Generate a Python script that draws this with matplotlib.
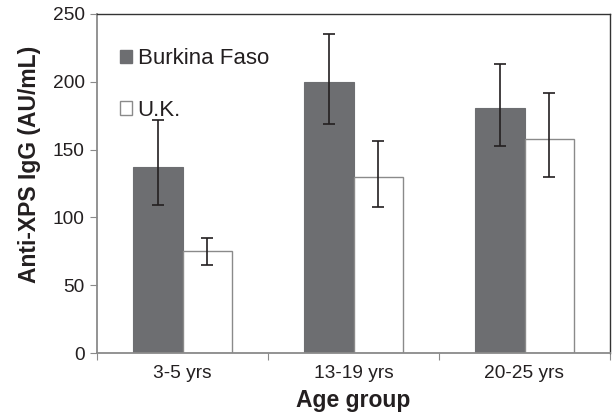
import matplotlib
matplotlib.use("Agg")
import matplotlib.pyplot as plt
from matplotlib.patches import Patch
import numpy as np

plt.rcParams['font.family'] = ['Liberation Sans', 'DejaVu Sans']

categories = ["3-5 yrs", "13-19 yrs", "20-25 yrs"]
burkina = [137, 200, 181]
burkina_lo = [109, 169, 153]
burkina_hi = [172, 235, 213]
uk = [75, 130, 158]
uk_lo = [65, 108, 130]
uk_hi = [85, 156, 192]

fig = plt.figure(figsize=(6.12, 4.17), dpi=100)
ax = fig.add_axes([97/612, 64/417, 513/612, 339/417])

x = np.arange(len(categories))
w = 0.29
dark = "#6d6e71"
errc = "#231f20"

bf_err = [np.array(burkina) - np.array(burkina_lo), np.array(burkina_hi) - np.array(burkina)]
uk_err = [np.array(uk) - np.array(uk_lo), np.array(uk_hi) - np.array(uk)]

ax.bar(x - w/2, burkina, w, color=dark, edgecolor=dark, linewidth=0.8, zorder=2)
ax.bar(x + w/2, uk, w, color="white", edgecolor="#8a8a8a", linewidth=1.0, zorder=2)
ax.errorbar(x - w/2, burkina, yerr=bf_err, fmt="none", ecolor=errc, elinewidth=1.2, capsize=4, capthick=1.2, zorder=3)
ax.errorbar(x + w/2, uk, yerr=uk_err, fmt="none", ecolor=errc, elinewidth=1.2, capsize=4, capthick=1.2, zorder=3)

ax.set_xlim(-0.5, 2.5)
ax.set_ylim(0, 250)
ax.set_yticks([0, 50, 100, 150, 200, 250])
ax.tick_params(axis="y", direction="out", length=5, color="#8a8a8a", labelsize=13.8, labelcolor="#231f20", pad=4)

ax.set_xticks([-0.5, 0.5, 1.5, 2.5])
ax.set_xticklabels([])
ax.tick_params(axis="x", which="major", direction="out", length=5, color="#8a8a8a")
ax.set_xticks(x, minor=True)
ax.set_xticklabels(categories, minor=True)
ax.tick_params(axis="x", which="minor", length=0, labelsize=13.8, labelcolor="#231f20", pad=9)

for s in ["left", "bottom"]:
    ax.spines[s].set_color("#8a8a8a")
    ax.spines[s].set_linewidth(1.3)
for s in ["top", "right"]:
    ax.spines[s].set_color("#333333")
    ax.spines[s].set_linewidth(1.0)

ax.set_ylabel("Anti-XPS IgG (AU/mL)", fontsize=16.5, fontweight="bold", color="#231f20")
ax.yaxis.set_label_coords(-0.110, 0.555)
ax.set_xlabel("Age group", fontsize=16.5, fontweight="bold", color="#231f20", labelpad=5)

handles = [Patch(facecolor=dark, edgecolor=dark), Patch(facecolor="white", edgecolor="#8a8a8a")]
ax.legend(handles, ["Burkina Faso", "U.K."], loc="upper left", bbox_to_anchor=(0.027, 0.925),
          borderaxespad=0, frameon=False, fontsize=16, handlelength=0.55, handleheight=0.55,
          handletextpad=0.25, labelspacing=1.37, labelcolor="#231f20")

fig.savefig("out.png", dpi=100)
